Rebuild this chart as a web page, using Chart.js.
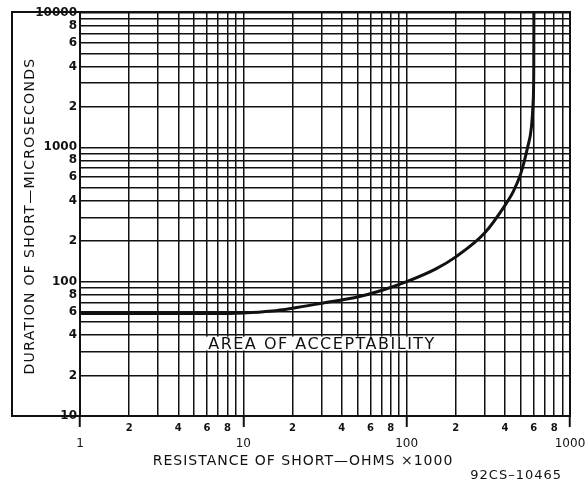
<!DOCTYPE html>
<html>
<head>
<meta charset="utf-8">
<script src="https://cdn.jsdelivr.net/npm/chart.js@4.4.1/dist/chart.umd.min.js"></script>
<style>
  html, body { margin: 0; padding: 0; background: #fff; }
  #wrap { width: 588px; height: 485px; position: relative; }
</style>
</head>
<body>
<div id="wrap"><canvas id="shortChart"></canvas></div>
<script>
// curve: resistance of short (ohms x1000) -> duration (microseconds)
const resistance = [1, 3, 6, 10, 15, 20, 30, 50, 70, 100, 150, 200, 300, 400, 450, 500, 550, 580, 595, 600, 601];
const duration   = [58, 58, 58, 58.5, 60.5, 63.5, 69, 77, 86, 100, 124, 153, 230, 370, 470, 640, 1000, 1400, 2200, 4000, 10000];

const xRange = [1, 1000];
const yRange = [10, 10000];
const gridSteps = [1, 2, 3, 4, 5, 6, 7, 8, 9];
const xMinorLabels = [2, 4, 6, 8];
const yMinorLabels = [2, 4, 6, 8];

const xTitle = 'RESISTANCE OF SHORT\u2014OHMS \u00d71000';
const yTitle = 'DURATION OF SHORT\u2014MICROSECONDS';
const areaLabel = 'AREA OF ACCEPTABILITY';
const drawingNo = '92CS\u201310465';

const INK = '#111';

function logTicks(min, max) {
  const ticks = [];
  for (let e = Math.round(Math.log10(min)); e <= Math.round(Math.log10(max)); e++) {
    gridSteps.forEach(s => {
      const v = s * Math.pow(10, e);
      if (v >= min && v <= max) ticks.push({ value: v, major: s === 1 });
    });
  }
  return ticks;
}

function mantissa(v) {
  const e = Math.floor(Math.log10(v) + 1e-9);
  return Math.round(v / Math.pow(10, e));
}

const sheetFrame = {
  id: 'sheetFrame',
  afterDatasetsDraw(chart) {
    const { ctx, scales: { x, y } } = chart;
    const x0 = x.getPixelForValue(5.2), x1 = x.getPixelForValue(172);
    const y0 = y.getPixelForValue(40) + 1.5, y1 = y.getPixelForValue(30) - 1.5;
    ctx.save();
    ctx.fillStyle = '#fff';
    ctx.fillRect(x0, y0, x1 - x0, y1 - y0);
    ctx.fillStyle = INK;
    ctx.font = '16px "DejaVu Sans"';
    ctx.letterSpacing = '1.5px';
    ctx.textAlign = 'center';
    ctx.textBaseline = 'middle';
    ctx.fillText(areaLabel, (x0 + x1) / 2 + 1, (y0 + y1) / 2 + 1);
    ctx.restore();
  },
  afterDraw(chart) {
    const { ctx, chartArea: a } = chart;
    ctx.save();
    ctx.strokeStyle = INK;
    ctx.lineWidth = 2;
    ctx.strokeRect(12, a.top - 1, a.right - 12, a.bottom - a.top + 1);
    ctx.fillStyle = INK;
    ctx.font = '14px "DejaVu Sans"';
    ctx.letterSpacing = '1px';
    ctx.textBaseline = 'middle';
    ctx.textAlign = 'center';
    ctx.fillText(xTitle, 303, 461);
    ctx.save();
    ctx.letterSpacing = '1.3px';
    ctx.translate(30, 216);
    ctx.rotate(-Math.PI / 2);
    ctx.fillText(yTitle, 0, 0);
    ctx.restore();
    ctx.font = '13px "DejaVu Sans"';
    ctx.letterSpacing = '1px';
    ctx.textAlign = 'right';
    ctx.fillText(drawingNo, 562, 476);
    ctx.restore();
  }
};

new Chart(document.getElementById('shortChart'), {
  type: 'line',
  data: {
    datasets: [{
      data: resistance.map((r, i) => ({ x: r, y: duration[i] })),
      borderColor: INK,
      borderWidth: 3,
      pointRadius: 0,
      fill: false,
      cubicInterpolationMode: 'monotone'
    }]
  },
  options: {
    responsive: true,
    maintainAspectRatio: false,
    animation: false,
    layout: { padding: { left: 12, right: 18, top: 13, bottom: 0 } },
    plugins: { legend: { display: false }, tooltip: { enabled: false } },
    scales: {
      x: {
        type: 'logarithmic',
        min: xRange[0],
        max: xRange[1],
        afterBuildTicks: s => { s.ticks = logTicks(xRange[0], xRange[1]); },
        afterFit: s => { s.height = 69; },
        border: { color: INK, width: 2 },
        grid: {
          color: INK,
          lineWidth: 1.5,
          drawTicks: true,
          tickLength: 11,
          tickWidth: 2,
          tickColor: c => (c.tick && c.tick.major ? INK : 'rgba(0,0,0,0)')
        },
        ticks: {
          autoSkip: false,
          maxRotation: 0,
          padding: -5,
          color: INK,
          font: c => (c.tick && c.tick.major
            ? { family: 'DejaVu Sans', size: 12 }
            : { family: 'DejaVu Sans', size: 10, weight: 'bold' }),
          callback: v => {
            const m = mantissa(v);
            if (m === 1) return ['', String(v)];
            return xMinorLabels.includes(m) ? String(m) : '';
          }
        }
      },
      y: {
        type: 'logarithmic',
        min: yRange[0],
        max: yRange[1],
        afterBuildTicks: s => { s.ticks = logTicks(yRange[0], yRange[1]); },
        afterFit: s => { s.width = 68; },
        border: { color: INK, width: 2 },
        grid: { color: INK, lineWidth: 1.5, drawTicks: false },
        ticks: {
          autoSkip: false,
          padding: 3,
          color: INK,
          font: { family: 'DejaVu Sans', size: 12, weight: 'bold' },
          callback: v => {
            const m = mantissa(v);
            if (m === 1) return String(v);
            return yMinorLabels.includes(m) ? String(m) : '';
          }
        }
      }
    }
  },
  plugins: [sheetFrame]
});
</script>
</body>
</html>
